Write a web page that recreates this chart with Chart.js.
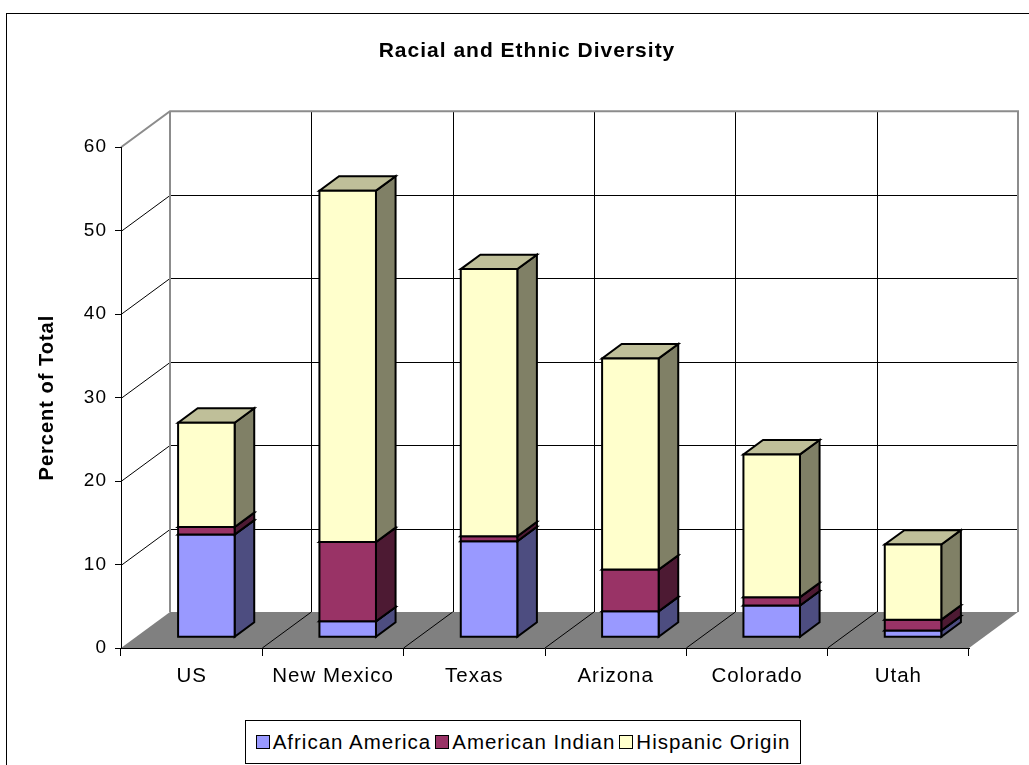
<!DOCTYPE html>
<html>
<head>
<meta charset="utf-8">
<script src="https://cdn.jsdelivr.net/npm/chart.js@4.4.0/dist/chart.umd.min.js"></script>
<style>
  body { margin: 0; background: #fff; }
  #wrap { position: relative; width: 1029px; height: 765px; overflow: hidden; }
  #legend {
    position: absolute; left: 245px; top: 720px; width: 556px; height: 44px;
    box-sizing: border-box; border: 1px solid #000; background: #fff;
    display: flex; align-items: center; justify-content: center;
    font: 20.5px "Liberation Sans", Arial, sans-serif; letter-spacing: 1px; color: #000;
  }
  #legend .item { display: flex; align-items: center; margin: 0 2px; }
  #legend .swatch { width: 12px; height: 12px; border: 1.5px solid #000; margin-right: 3px; }
</style>
</head>
<body>
<div id="wrap">
  <canvas id="myChart" width="1029" height="765"></canvas>
  <div id="legend"></div>
</div>
<script>
const categories = ['US', 'New Mexico', 'Texas', 'Arizona', 'Colorado', 'Utah'];
const africanAmerica = [12.3, 1.9, 11.5, 3.1, 3.8, 0.8];
const americanIndian = [0.9, 9.5, 0.6, 5.0, 1.0, 1.3];
const hispanicOrigin = [12.5, 42.1, 32.0, 25.3, 17.1, 9.0];
const seriesNames = ['African America', 'American Indian', 'Hispanic Origin'];
const yTicks = [0, 10, 20, 30, 40, 50, 60];

const colors = ['#9999FF', '#993366', '#FFFFCC'];

// oblique depth of the plot box, and where the bars sit inside it
const DEPTH_X = 49, DEPTH_Y = -36;
const BAR_FRONT = 0.3, BAR_BACK = 0.7;

Chart.defaults.font.family = "'Liberation Sans', Arial, sans-serif";
Chart.defaults.color = '#000';

function shade(hex, f) {
  const n = parseInt(hex.slice(1), 16);
  const r = Math.round(((n >> 16) & 255) * f);
  const g = Math.round(((n >> 8) & 255) * f);
  const b = Math.round((n & 255) * f);
  return `rgb(${r},${g},${b})`;
}

function boundary(x, i) {
  const n = categories.length;
  if (i === 0) return x.left;
  if (i === n) return x.right;
  return (x.getPixelForValue(i - 1) + x.getPixelForValue(i)) / 2;
}

// back wall, side wall and floor
const walls = {
  id: 'walls',
  beforeDraw(chart) {
    const { ctx, chartArea: a, scales: { x, y } } = chart;
    ctx.save();
    ctx.fillStyle = '#fff';
    ctx.fillRect(0, 0, chart.width, chart.height);
    ctx.strokeStyle = '#000';
    ctx.lineWidth = 1;
    ctx.strokeRect(6.5, 13.5, chart.width + 20, chart.height + 20);

    ctx.beginPath();
    yTicks.forEach(v => {
      if (v <= 0 || v >= 60) return;
      const fy = Math.round(y.getPixelForValue(v)) + 0.5;
      const by = fy + DEPTH_Y;
      ctx.moveTo(a.left + DEPTH_X, by);
      ctx.lineTo(a.right + DEPTH_X, by);
      ctx.moveTo(a.left, fy);
      ctx.lineTo(a.left + DEPTH_X, by);
    });
    for (let i = 1; i < categories.length; i++) {
      const bx = Math.round(boundary(x, i) + DEPTH_X) + 0.5;
      ctx.moveTo(bx, a.top + DEPTH_Y);
      ctx.lineTo(bx, a.bottom + DEPTH_Y);
    }
    ctx.stroke();

    // floor
    ctx.fillStyle = '#808080';
    ctx.beginPath();
    ctx.moveTo(a.left, a.bottom);
    ctx.lineTo(a.right, a.bottom);
    ctx.lineTo(a.right + DEPTH_X, a.bottom + DEPTH_Y);
    ctx.lineTo(a.left + DEPTH_X, a.bottom + DEPTH_Y);
    ctx.closePath();
    ctx.fill();
    ctx.beginPath();
    for (let i = 1; i < categories.length; i++) {
      const bx = boundary(x, i);
      ctx.moveTo(bx, a.bottom);
      ctx.lineTo(bx + DEPTH_X, a.bottom + DEPTH_Y);
    }
    ctx.stroke();

    // wall edges
    ctx.strokeStyle = '#8c8c8c';
    ctx.lineWidth = 2;
    ctx.beginPath();
    ctx.moveTo(a.left, a.top);
    ctx.lineTo(a.left + DEPTH_X, a.top + DEPTH_Y);
    ctx.lineTo(a.right + DEPTH_X, a.top + DEPTH_Y);
    ctx.lineTo(a.right + DEPTH_X, a.bottom + DEPTH_Y);
    ctx.moveTo(a.left + DEPTH_X, a.top + DEPTH_Y);
    ctx.lineTo(a.left + DEPTH_X, a.bottom + DEPTH_Y);
    ctx.stroke();
    ctx.restore();
    ctx.letterSpacing = '1px';
  },
  beforeDatasetDraw() {
    return false;
  },
  afterDatasetsDraw(chart) {
    const ctx = chart.ctx;
    const dx = (BAR_BACK - BAR_FRONT) * DEPTH_X;
    const dy = (BAR_BACK - BAR_FRONT) * DEPTH_Y;
    ctx.save();
    ctx.strokeStyle = '#000';
    ctx.lineWidth = 2;
    ctx.lineJoin = 'miter';
    for (let i = 0; i < categories.length; i++) {
      chart.data.datasets.forEach((ds, di) => {
        const el = chart.getDatasetMeta(di).data[i];
        const p = el.getProps(['x', 'y', 'base', 'width'], true);
        const l = p.x - p.width / 2 + BAR_FRONT * DEPTH_X;
        const r = l + p.width;
        const t = p.y + BAR_FRONT * DEPTH_Y;
        const b = p.base + BAR_FRONT * DEPTH_Y;
        const c = colors[di];
        const face = (pts, fill) => {
          ctx.beginPath();
          pts.forEach(([px, py], k) => k ? ctx.lineTo(px, py) : ctx.moveTo(px, py));
          ctx.closePath();
          ctx.fillStyle = fill;
          ctx.fill();
          ctx.stroke();
        };
        face([[r, b], [r, t], [r + dx, t + dy], [r + dx, b + dy]], shade(c, 0.5));
        face([[l, t], [r, t], [r + dx, t + dy], [l + dx, t + dy]], shade(c, 0.75));
        face([[l, b], [l, t], [r, t], [r, b]], c);
      });
    }
    ctx.restore();
  }
};

const htmlLegend = {
  id: 'htmlLegend',
  afterUpdate(chart) {
    const box = document.getElementById('legend');
    box.innerHTML = '';
    chart.options.plugins.legend.labels.generateLabels(chart).forEach(item => {
      const it = document.createElement('span');
      it.className = 'item';
      const sw = document.createElement('span');
      sw.className = 'swatch';
      sw.style.background = item.fillStyle;
      const tx = document.createElement('span');
      tx.textContent = item.text;
      it.appendChild(sw);
      it.appendChild(tx);
      box.appendChild(it);
    });
  }
};

const data = {
  labels: categories,
  datasets: [
    { label: seriesNames[0], data: africanAmerica, backgroundColor: colors[0] },
    { label: seriesNames[1], data: americanIndian, backgroundColor: colors[1] },
    { label: seriesNames[2], data: hispanicOrigin, backgroundColor: colors[2] }
  ]
};

new Chart(document.getElementById('myChart'), {
  type: 'bar',
  data: data,
  options: {
    responsive: false,
    animation: false,
    barPercentage: 0.4,
    categoryPercentage: 1,
    layout: { padding: { top: 0, left: 25, right: 0, bottom: 77 } },
    plugins: {
      legend: { display: false },
      tooltip: { enabled: false },
      title: {
        display: true,
        text: 'Racial and Ethnic Diversity',
        color: '#000',
        font: { size: 21, weight: 'bold' },
        padding: { top: 39, bottom: 83 }
      }
    },
    scales: {
      x: {
        stacked: true,
        ticks: { color: '#000', font: { size: 20.5 }, padding: 8 },
        grid: { drawOnChartArea: false, tickLength: 8, color: '#000', offset: true },
        border: { color: '#000' },
        afterFit(scale) { scale.height = 40; }
      },
      y: {
        stacked: true,
        min: 0,
        max: 60,
        ticks: { stepSize: 10, color: '#000', font: { size: 19 }, padding: 8 },
        grid: { drawOnChartArea: false, tickLength: 6, color: '#000' },
        border: { color: '#000' },
        title: {
          display: true,
          text: 'Percent of Total',
          color: '#000',
          font: { size: 20, weight: 'bold' },
          padding: { top: 10, bottom: 0 }
        },
        afterFit(scale) { scale.width = 96; }
      },
      // empty right-hand axis that reserves room for the depth of the box
      depth: {
        type: 'linear',
        position: 'right',
        ticks: { display: false },
        grid: { display: false },
        border: { display: false },
        afterFit(scale) { scale.width = 60; }
      }
    }
  },
  plugins: [walls, htmlLegend]
});
</script>
</body>
</html>
